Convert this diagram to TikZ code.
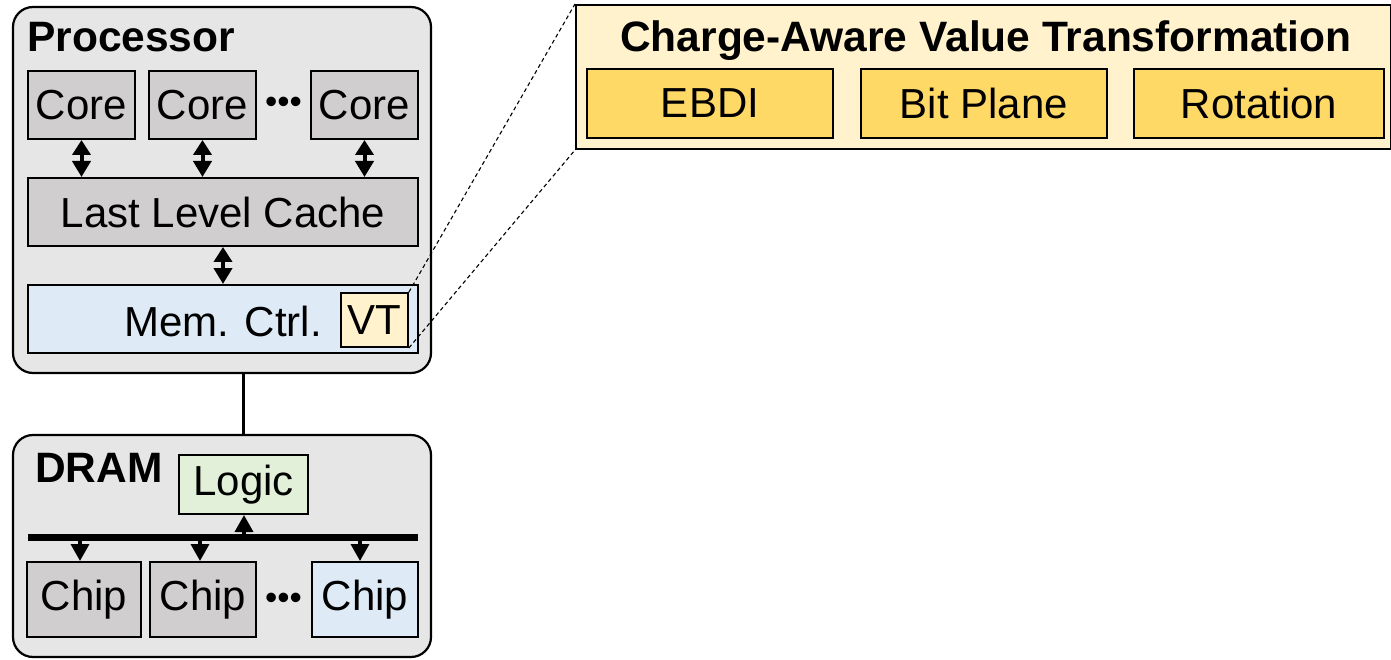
\documentclass[tikz,border=0pt]{standalone}
\usepackage{fontspec}
\setmainfont{Liberation Sans}
\usetikzlibrary{arrows.meta,calc}
\definecolor{outerbg}{HTML}{E7E6E6}
\definecolor{coregray}{HTML}{D0CECE}
\definecolor{ltblue}{HTML}{DEEBF7}
\definecolor{ltyellow}{HTML}{FFF2CC}
\definecolor{ltgreen}{HTML}{E2F0D9}
\definecolor{gold}{HTML}{FFD966}
\tikzset{
  outerbox/.style={draw=black, line width=2.2pt, fill=outerbg, rounded corners=20pt},
  blk/.style={draw=black, line width=2pt, rectangle, inner sep=0pt, font=\fontsize{42}{42}\selectfont},
  biarrow/.style={line width=4pt, {Triangle[width=18pt,length=15pt]}-{Triangle[width=18pt,length=16pt]}},
  uparrow/.style={line width=3.5pt, -{Triangle[width=18pt,length=17pt]}},
  dashlink/.style={dash pattern=on 4pt off 3pt, line width=1.1pt},
  dots/.style={font=\fontsize{35}{35}\selectfont, inner sep=0pt},
  boldlbl/.style={font=\fontsize{42.5}{42.5}\selectfont\bfseries, inner sep=0pt, anchor=base west}
}
\begin{document}
\begin{tikzpicture}[x=1pt,y=-1pt]
\useasboundingbox (0,0) rectangle (1391,660);
% Processor
\node[outerbox, minimum width=418pt, minimum height=366pt, inner sep=0pt] (proc) at (222,190) {};
\node[boldlbl] (proclbl) at (27,52) {Processor};
\node[blk, fill=coregray, minimum width=107pt, minimum height=68pt] (core1) at (81.5,105) {Core};
\node[blk, fill=coregray, minimum width=107pt, minimum height=68pt] (core2) at (202.5,105) {Core};
\node[blk, fill=coregray, minimum width=107pt, minimum height=68pt] (core3) at (364.5,105) {Core};
\node[dots] (cdots) at (283.5,105) {•••};
\node[blk, fill=coregray, minimum width=390pt, minimum height=68pt] (llc) at (223,212) {Last Level Cache};
\node[blk, fill=ltblue, minimum width=390pt, minimum height=68pt] (mc) at (223,319) {};
\node[font=\fontsize{42}{42}\selectfont, inner sep=0pt] (mclbl) at (223,321) {Mem. Ctrl.};
\node[blk, fill=ltyellow, minimum width=67pt, minimum height=54pt, line width=1.8pt] (vt) at (374.5,320) {VT};
\draw[biarrow] (core1.south) -- (core1.south |- llc.north);
\draw[biarrow] (core2.south) -- (core2.south |- llc.north);
\draw[biarrow] (core3.south) -- (core3.south |- llc.north);
\draw[biarrow] (llc.south) -- (llc.south |- mc.north);
% DRAM
\node[outerbox, minimum width=418pt, minimum height=222pt, inner sep=0pt] (dram) at (222,546) {};
\node[boldlbl] (dramlbl) at (35,482) {DRAM};
\node[blk, fill=ltgreen, minimum width=129pt, minimum height=59pt] (logic) at (243.5,484.5) {Logic};
\draw[line width=3pt] (proc.south -| logic.center) -- (dram.north -| logic.center);
\coordinate (busL) at (28,537);
\coordinate (busR) at (418,537);
\draw[line width=7pt] (busL) -- (busR);
\node[blk, fill=coregray, minimum width=114pt, minimum height=75pt] (chip1) at (84,599.5) {Chip};
\node[blk, fill=coregray, minimum width=106pt, minimum height=75pt] (chip2) at (203,599.5) {Chip};
\node[blk, fill=ltblue, minimum width=106pt, minimum height=75pt] (chip3) at (365,599.5) {Chip};
\node[dots] (chdots) at (283.5,601) {•••};
\coordinate (b1) at (80,537);
\coordinate (b2) at (200,537);
\coordinate (b3) at (360,537);
\coordinate (b0) at (244,537);
\draw[uparrow] (b1) -- (b1 |- chip1.north);
\draw[uparrow] (b2) -- (b2 |- chip2.north);
\draw[uparrow] (b3) -- (b3 |- chip3.north);
\draw[uparrow] (b0) -- (b0 |- logic.south);
% Right panel
\node[draw=black, line width=2pt, fill=ltyellow, minimum width=815pt, minimum height=144pt, inner sep=0pt] (cavt) at (983.5,77) {};
\node[boldlbl] (cavtlbl) at (620,52) {Charge-Aware Value Transformation};
\node[blk, fill=gold, minimum width=246pt, minimum height=69pt] (ebdi) at (710,103.5) {EBDI};
\node[blk, fill=gold, minimum width=246pt, minimum height=69pt] (bitp) at (984,103.5) {Bit Plane};
\node[blk, fill=gold, minimum width=250pt, minimum height=69pt] (rot) at (1259,103.5) {Rotation};
\draw[dashlink] (vt.north east) -- (cavt.north west);
\draw[dashlink] (vt.south east) -- (cavt.south west);
\end{tikzpicture}
\end{document}
